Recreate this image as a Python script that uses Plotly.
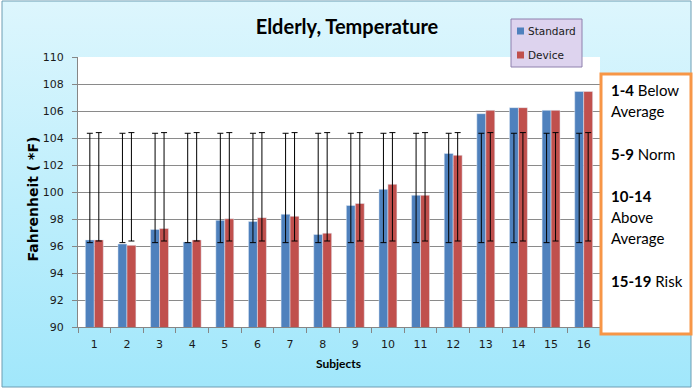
import base64
import plotly.graph_objects as go

# ---------------- data ----------------
subjects = [str(i) for i in range(1, 17)]
standard = [96.45, 96.15, 97.22, 96.3, 97.9, 97.82, 98.35, 96.85,
            99.0, 100.2, 99.76, 102.85, 105.8, 106.25, 106.05, 107.45]
device = [96.45, 96.05, 97.3, 96.45, 98.02, 98.1, 98.2, 96.95,
          99.15, 100.57, 99.76, 102.72, 106.05, 106.25, 106.05, 107.45]
series_names = ["Standard", "Device"]
# fixed error-bar ranges (low, high) for each series
std_err_low, std_err_high = 96.25, 104.35
dev_err_low, dev_err_high = 96.37, 104.4
y_ticks = list(range(90, 111, 2))
box_lines = [("1-4", " Below"), ("", "Average"), ("5-9", " Norm"),
             ("10-14", ""), ("", "Above"), ("", "Average"), ("15-19", " Risk")]
box_slots = [0, 1, 3, 5, 6, 7, 9]

# ---------------- layout geometry ----------------
FW, FH = 697, 391
L, T, W, H = 78, 57, 522, 270
R, B = FW - L - W, FH - T - H


def px2x(px):
    return (px - L) / W


def py2y(py):
    return (T + H - py) / H


BLUE = "#4f81bd"
RED = "#c0504d"

fig = go.Figure()
fig.add_trace(go.Bar(x=subjects, y=standard, name=series_names[0], marker_color=BLUE,
                     offsetgroup="s", alignmentgroup="a", showlegend=False))
fig.add_trace(go.Bar(x=subjects, y=device, name=series_names[1], marker_color=RED,
                     offsetgroup="d", alignmentgroup="a", showlegend=False))

for name, lo, hi, grp in [(series_names[0], std_err_low, std_err_high, "s"),
                          (series_names[1], dev_err_low, dev_err_high, "d")]:
    c = (lo + hi) / 2
    half = (hi - lo) / 2
    fig.add_trace(go.Scatter(x=subjects, y=[c] * len(subjects), mode="markers",
                             marker=dict(size=1, opacity=0), offsetgroup=grp,
                             alignmentgroup="a", showlegend=False, hoverinfo="skip",
                             error_y=dict(type="constant", value=half, color="black",
                                          thickness=1, width=3)))

# background gradient image
svg = ('<svg xmlns="http://www.w3.org/2000/svg" width="10" height="100" viewBox="0 0 10 100" '
       'preserveAspectRatio="none"><defs><linearGradient id="g" x1="0" y1="0" x2="0" y2="1">'
       '<stop offset="0" stop-color="#ddf6fd"/><stop offset="1" stop-color="#a1e7fb"/>'
       '</linearGradient></defs><rect width="10" height="100" fill="url(#g)"/></svg>')
src = "data:image/svg+xml;base64," + base64.b64encode(svg.encode()).decode()
cx0, cy0, cx1, cy1 = 2, 1, 691, 387
fig.add_layout_image(dict(source=src, xref="paper", yref="paper", x=px2x(cx0), y=py2y(cy0),
                          sizex=px2x(cx1) - px2x(cx0), sizey=py2y(cy0) - py2y(cy1),
                          xanchor="left", yanchor="top", sizing="stretch", layer="below"))

shapes = []
# chart border
shapes.append(dict(type="rect", xref="paper", yref="paper", x0=px2x(cx0), x1=px2x(cx1),
                   y0=py2y(cy1), y1=py2y(cy0), line=dict(color="#6d9db3", width=1),
                   fillcolor="rgba(0,0,0,0)", layer="below"))
# white plot area
shapes.append(dict(type="rect", xref="x domain", yref="y domain", x0=0, x1=1, y0=0, y1=1,
                   fillcolor="white", line=dict(width=0), layer="below"))
# text box
shapes.append(dict(type="rect", xref="paper", yref="paper", x0=px2x(601), x1=px2x(691),
                   y0=py2y(334), y1=py2y(74), fillcolor="white",
                   line=dict(color="#f79646", width=3), layer="above"))
# legend box
shapes.append(dict(type="rect", xref="paper", yref="paper", x0=px2x(511), x1=px2x(582),
                   y0=py2y(67), y1=py2y(19), fillcolor="#ddd3ee",
                   line=dict(color="#8e80ad", width=1), layer="above"))
leg_y = [31, 55]
for col, yy in zip([BLUE, RED], leg_y):
    shapes.append(dict(type="rect", xref="paper", yref="paper", x0=px2x(517), x1=px2x(524),
                       y0=py2y(yy + 3.5), y1=py2y(yy - 3.5), fillcolor=col,
                       line=dict(width=0), layer="above"))

annotations = []
for nm, yy in zip(series_names, leg_y):
    annotations.append(dict(text=nm, xref="paper", yref="paper", x=px2x(526), y=py2y(yy),
                            xanchor="left", yanchor="middle", showarrow=False,
                            font=dict(family="DejaVu Sans", size=10.5, color="#1a1a1a")))
for (bold, rest), slot in zip(box_lines, box_slots):
    txt = (f"<b>{bold}</b>" if bold else "") + rest
    annotations.append(dict(text=txt, xref="paper", yref="paper", x=px2x(609),
                            y=py2y(90 + slot * 21.2), xanchor="left", yanchor="middle",
                            showarrow=False, font=dict(family="Lato", size=15, color="black")))
annotations.append(dict(text="<b>Fahrenheit ( *F)</b>", xref="paper", yref="paper",
                        x=px2x(32.5), y=py2y(199), textangle=-90, xanchor="center",
                        yanchor="middle", showarrow=False,
                        font=dict(family="DejaVu Sans", size=14, color="black")))
annotations.append(dict(text="<b>Subjects</b>", xref="paper", yref="paper",
                        x=px2x(338), y=py2y(363), xanchor="center", yanchor="middle",
                        showarrow=False, font=dict(family="Lato", size=12, color="black")))

fig.update_layout(
    width=FW, height=FH, margin=dict(l=L, r=R, t=T, b=B),
    paper_bgcolor="white", plot_bgcolor="white",
    barmode="group", bargap=0.45, bargroupgap=0, scattermode="group",
    title=dict(text="<b>Elderly, Temperature</b>", x=347 / FW, y=1 - 27 / FH,
               xanchor="center", yanchor="middle",
               font=dict(family="Lato", size=20, color="black")),
    shapes=shapes, annotations=annotations,
    showlegend=False,
    font=dict(family="DejaVu Sans", size=11, color="#1a1a1a"),
)
fig.update_xaxes(type="category", showline=True, linecolor="#868686", linewidth=1,
                 ticks="outside", tickson="boundaries", ticklen=5, tickcolor="#868686",
                 showgrid=False, ticklabelstandoff=7,
                 tickfont=dict(family="DejaVu Sans", size=11, color="#1a1a1a"))
fig.update_yaxes(range=[90, 110], tickvals=y_ticks, showline=True, linecolor="#868686",
                 linewidth=1, ticks="outside", ticklen=5, tickcolor="#868686",
                 showgrid=True, gridcolor="#8a8a8a", gridwidth=1, zeroline=False,
                 ticklabelstandoff=6,
                 tickfont=dict(family="DejaVu Sans", size=11, color="#1a1a1a"))

fig.write_html("out.html", config={"displayModeBar": False},
               post_script="document.body.style.margin='0px';")
